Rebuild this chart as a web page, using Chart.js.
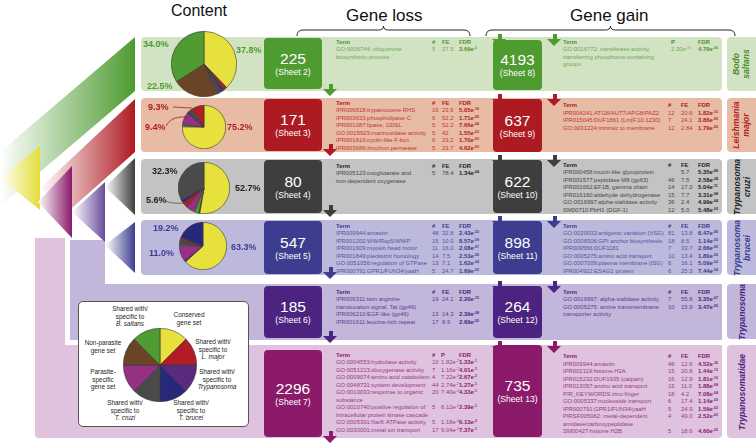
<!DOCTYPE html>
<html>
<head>
<meta charset="utf-8">
<script src="https://cdn.jsdelivr.net/npm/chart.js@4.4.0/dist/chart.umd.min.js"></script>
<style>
  body { margin: 0; width: 756px; height: 443px; position: relative; overflow: hidden; background: #fff;
         font-family: "Liberation Sans", Arial, sans-serif; }
  .a { position: absolute; white-space: nowrap; }
  .nbox { position: absolute; border-radius: 4px; color: #fff; display: flex; flex-direction: column;
          align-items: center; justify-content: center; }
  .nbox .n { font-size: 15.5px; line-height: 17px; }
  .nbox .s { font-size: 8.6px; line-height: 11px; }
  .t { position: absolute; white-space: nowrap; font-size: 5.9px; line-height: 7.5px; }
  .t sup { font-size: 3.6px; vertical-align: 2px; line-height: 0; }
  .pct { position: absolute; font-size: 9px; font-weight: bold; line-height: 10px; }
  .sp { position: absolute; display: flex; flex-direction: column; align-items: center; justify-content: center;
        font-weight: bold; font-style: italic; font-size: 8.6px; line-height: 10px; transform: rotate(-90deg); }
  .lg { position: absolute; font-size: 6.4px; line-height: 7.7px; text-align: center; color: #222; white-space: nowrap; }
  canvas { position: absolute; }
</style>
</head>
<body>
<svg id="bg" class="a" width="756" height="443" style="left:0;top:0"></svg>
<div id="ui"></div>
<svg id="fg" class="a" width="756" height="443" style="left:0;top:0;pointer-events:none"></svg>
<script>
// content categories (legend order, clockwise from 12 o'clock)
const contentLabels = ['Conserved gene set', 'Shared with/ specific to L. major', 'Shared with/ specific to Trypanosoma',
  'Shared with/ specific to T. brucei', 'Shared with/ specific to T. cruzi', 'Parasite- specific gene set',
  'Non-parasite gene set', 'Shared with/ specific to B. saltans'];
const contentColors = ['#e6e13c', '#b21c24', '#5b2a80', '#27287a', '#4a4a4a', '#953085', '#6a4424', '#519b33'];

// pie slices per species: category index and percentage, clockwise
const bodoOrder = [0, 1, 2, 3, 4, 5, 6, 7];
const bodoShares = [37.8, 1.6, 0.6, 0.8, 2.0, 0.7, 22.5, 34.0];
const lmajorOrder = [0, 7, 5, 3, 4, 1];
const lmajorShares = [75.2, 1.5, 9.4, 1.0, 3.6, 9.3];
const tcruziOrder = [0, 6, 7, 5, 1, 3, 2, 4];
const tcruziShares = [52.7, 0.6, 2.8, 5.6, 3.4, 1.8, 0.8, 32.3];
const tbruceiOrder = [0, 2, 5, 7, 4, 1, 3];
const tbruceiShares = [63.3, 1.2, 11.0, 1.0, 2.8, 1.5, 19.2];
const legendShares = [1, 1, 1, 1, 1, 1, 1, 1];

// gene counts
const lossCounts = ['225', '171', '80', '547', '185', '2296'];
const gainCounts = ['4193', '637', '622', '898', '264', '735'];
const lossSheets = ['(Sheet 2)', '(Sheet 3)', '(Sheet 4)', '(Sheet 5)', '(Sheet 6)', '(Sheet 7)'];
const gainSheets = ['(Sheet 8)', '(Sheet 9)', '(Sheet 10)', '(Sheet 11)', '(Sheet 12)', '(Sheet 13)'];
const species = ['Bodo\nsaltans', 'Leishmania\nmajor', 'Trypanosoma\ncruzi', 'Trypanosoma\nbrucei', 'Trypanosoma', 'Trypanosomatidae'];

// enrichment tables: term, #, FE (or P), FDR
const lossBodo = [['GO:0006744: ubiquinone\nbiosynthetic process', '5', '27.5', '3.69e-3']];
const lossLmajor = [
  ['IPR006518:trypanosome RHS', '16', '23.6', '5.05e-16'],
  ['IPR003633:phospholipase C', '6', '52.2', '1.71e-05'],
  ['IPR001087:lipase, GDSL', '5', '52.2', '7.66e-04'],
  ['GO:0015923:mannosidase activity', '5', '42', '1.55e-03'],
  ['IPR001810:cyclin-like F-box', '6', '23.2', '1.70e-03'],
  ['IPR003689:zinc/iron permease', '5', '23.7', '4.62e-03']];
const lossTcruzi = [['IPR005123:oxoglutarate and\niron-dependent oxygenase', '5', '78.4', '1.34e-04']];
const lossTbrucei = [
  ['IPR009944:amastin', '48', '32.8', '2.43e-53'],
  ['IPR001202:WW/Rsp5/WWP', '15', '10.0', '8.57e-09'],
  ['IPR001609:myosin head motor', '11', '16.0', '2.08e-07'],
  ['IPR001849:pleckstrin homology', '14', '7.5', '2.53e-05'],
  ['GO:0051056:regulation of GTPase', '13', '7.1', '1.62e-04'],
  ['IPR000791:GPR1/FUN34/yaaH', '5', '24.7', '1.69e-02']];
const lossTrypanosoma = [
  ['IPR006311:twin arginine\ntranslocation signal, Tat (gp46)', '19', '24.1', '2.20e-15'],
  ['IPR006210:EGF-like (gp46)', '13', '14.3', '2.39e-08'],
  ['IPR001611:leucine-rich repeat', '17', '8.9', '2.69e-05']];
const lossTrypanosomatidae = [
  ['GO:0004553:hydrolase activity', '10', '1.82e-2', '1.33e-1'],
  ['GO:0051213:dioxygenase activity', '7', '1.16e-2', '4.01e-1'],
  ['GO:0009074:amino acid catabolism', '4', '7.22e-4', '2.67e-2'],
  ['GO:0048731:system development', '44', '2.74e-2', '1.27e-1'],
  ['GO:0010033:response to organic\nsubstance', '20', '7.40e-3', '4.33e-1'],
  ['GO:0010740:positive regulation of\nintracellular protein kinase cascade', '5', '6.12e-2', '2.39e-1'],
  ['GO:0005391:Na/K ATPase activity', '5', '1.18e-4', '6.13e-2'],
  ['GO:0030001:metal ion transport', '17', '9.04e-2', '7.37e-1']];

const gainBodo = [['GO:0016772: transferase activity,\ntransferring phosphorus-containing\ngroups', '', '2.30e-09', '4.70e-06']];
const gainLmajor = [
  ['IPR004241:ATG8/AUT7/APG8/PAZ2', '12', '20.6', '1.82e-10'],
  ['IPR015045:DUF1861 (Lm|F.10.1230)', '7', '24.1', '3.86e-05'],
  ['GO:0031224:intrinsic to membrane', '12', '2.84', '1.79e-02']];
const gainTcruzi = [
  ['IPR000458:mucin-like glycoprotein', '', '5.7', '5.35e-89'],
  ['IPR001577:peptidase M8 (gp63)', '46', '7.5', '2.58e-24'],
  ['IPR001662:EF1B, gamma chain', '14', '17.0', '5.04e-11'],
  ['IPR016160:aldehyde dehydrogenase', '15', '7.7', '3.31e-08'],
  ['GO:0016997:alpha-sialidase activity', '36', '2.4', '4.99e-04'],
  ['SM00710:PbH1 (DGF-1)', '12', '5.0', '5.48e-03']];
const gainTbrucei = [
  ['GO:0020033:antigenic variation (VSG)', '81', '13.8', '6.47e-85'],
  ['GO:0006506:GPI anchor biosynthesis', '18', '8.5', '1.14e-05'],
  ['IPR009566:DUF1181', '7', '33.7', '2.66e-05'],
  ['GO:0005275:amino acid transport', '10', '13.4', '1.80e-05'],
  ['GO:0007009:plasma membrane (ISG)', '6', '16.1', '5.09e-03'],
  ['IPR004922:ESAG1 protein', '6', '25.3', '7.44e-04']];
const gainTrypanosoma = [
  ['GO:0016997: alpha-sialidase activity', '7', '55.8', '3.35e-07'],
  ['GO:0005275: amine transmembrane\ntransporter activity', '10', '15.9', '3.47e-05']];
const gainTrypanosomatidae = [
  ['IPR009944:amastin', '48', '12.6', '4.52e-36'],
  ['IPR002119:histone H2A', '15', '20.8', '1.44e-13'],
  ['IPR015232:DUF1935 (calpain)', '16', '12.9', '1.81e-10'],
  ['IPR013057:amino acid transport', '15', '11.0', '1.88e-08'],
  ['PIR_KEYWORDS:zinc-finger', '18', '4.2', '7.08e-04'],
  ['GO:0005337:nucleoside transport', '6', '17.4', '1.14e-03'],
  ['IPR000791:GPR1/FUN34/yaaH', '5', '24.9', '1.59e-02'],
  ['PIRSF005962: metal-dependent\namidase/carboxypeptidase', '4', '49.0', '2.52e-02'],
  ['SM00427:histone H2B', '5', '18.6', '4.60e-02']];

// ---- layout / styling ----
const darkCol = ['#4e9b30', '#ad1a22', '#3e3e3e', '#3c3d8f', '#4c2380', '#8b1a6a'];
const lightCol = ['#d1e3c3', '#e8bba5', '#c3c3c3', '#bdb9dd', '#c3b6db', '#dfc2de'];
const textCol = ['#6dab52', '#c0363a', '#474747', '#56529f', '#5d3b93', '#99398a'];
const boldCol = ['#4f9230', '#ad1a22', '#222', '#3c3a8c', '#4a2580', '#861a70'];
const spCol = ['#4a8c2b', '#b01c22', '#222', '#3b3d8e', '#4a2480', '#4a2480'];
const bandY = [[37, 91], [98, 152], [159, 214], [220, 275], [284, 339], [345, 438]];
const lossBoxY = [[38, 89], [99, 151], [160, 213], [221, 274], [286, 338], [350, 437]];
const gainBoxY = [[40, 90], [99, 152], [160, 213], [221, 274], [286, 338], [345, 437]];
const lossTop = [38.5, 99.5, 162.5, 222.5, 288.5, 351.5];
const gainTop = [38.5, 102, 161.5, 222.5, 288.5, 353];

const ui = document.getElementById('ui');
function el(cls, css, html) {
  const d = document.createElement('div');
  d.className = cls; d.style.cssText = css; d.innerHTML = html || '';
  ui.appendChild(d); return d;
}
function fmt(v) {
  if (v.indexOf('e') < 0) return v;
  const p = v.split('e');
  return p[0] + 'e<sup>' + p[1] + '</sup>';
}

// SVG background: tree shapes
const NS = 'http://www.w3.org/2000/svg';
const bg = document.getElementById('bg'), fg = document.getElementById('fg');
function svg(parent, tag, attrs) {
  const e = document.createElementNS(NS, tag);
  for (const k in attrs) e.setAttribute(k, attrs[k]);
  parent.appendChild(e); return e;
}
const defs = svg(bg, 'defs', {});
function grad(id, col) {
  const g = svg(defs, 'linearGradient', { id: id, x1: 0, x2: 1, y1: 0, y2: 0 });
  svg(g, 'stop', { offset: 0, 'stop-color': '#fff' });
  svg(g, 'stop', { offset: 1, 'stop-color': col });
}
grad('gY', '#e3dd38'); grad('gG', '#4e9b30'); grad('gR', '#ad1a22'); grad('gM', '#8b1a6a');
grad('gL', '#6a4c9c'); grad('gK', '#3e3e3e'); grad('gB', '#3c3d8f');

// trypanosomatid / trypanosoma regions
svg(bg, 'path', { d: 'M35,238 L65,238 L65,345 L722,345 L722,434 Q722,438 718,438 L39,438 Q35,438 35,434 Z', fill: lightCol[5] });
svg(bg, 'path', { d: 'M70,240 L105,240 L105,284 L722,284 L722,340 L70,340 Z', fill: lightCol[4] });
// row bands
bandY.forEach((b, i) => {
  if (i < 4) svg(bg, 'rect', { x: 141, y: b[0], width: 581, height: b[1] - b[0], rx: 4, fill: lightCol[i] });
  svg(bg, 'rect', { x: 727, y: b[0], width: 32, height: b[1] - b[0], rx: 4, fill: lightCol[i] });
});
// branches
svg(bg, 'polygon', { points: '0,152 135,37 135,91 0,206', fill: 'url(#gG)' });
svg(bg, 'polygon', { points: '40,188 135,99 135,152 72,208', fill: 'url(#gR)' });
svg(bg, 'polygon', { points: '0,178 40,146 40,210', fill: 'url(#gY)' });
svg(bg, 'polygon', { points: '38,202 72,166 72,238', fill: 'url(#gM)' });
svg(bg, 'polygon', { points: '72,212 105,182 105,242', fill: 'url(#gL)' });
svg(bg, 'polygon', { points: '105,187 135,158 135,215', fill: 'url(#gK)' });
svg(bg, 'polygon', { points: '105,245 135,222 135,273', fill: 'url(#gB)' });

// headers
el('a', 'left:171px;top:2px;font-size:16px;line-height:18px;color:#111', 'Content');
el('a', 'left:346px;top:6px;font-size:17px;line-height:19px;color:#111', 'Gene loss');
el('a', 'left:570px;top:6px;font-size:17px;line-height:19px;color:#111', 'Gene gain');
function bracket(x1, x2, y) {
  const m = (x1 + x2) / 2;
  svg(fg, 'path', { d: `M${x1},${y + 6} Q${x1},${y} ${x1 + 6},${y} L${m - 5},${y} Q${m},${y} ${m},${y - 4} Q${m},${y} ${m + 5},${y} L${x2 - 6},${y} Q${x2},${y} ${x2},${y + 6}`,
    fill: 'none', stroke: '#222', 'stroke-width': 1 });
}
bracket(297, 470, 30); bracket(486, 735, 30);

// number boxes and species labels
for (let i = 0; i < 6; i++) {
  const lb = lossBoxY[i], gb = gainBoxY[i], b = bandY[i];
  el('nbox', `left:264px;top:${lb[0]}px;width:58px;height:${lb[1] - lb[0]}px;background:${darkCol[i]}`,
    `<div class="n">${lossCounts[i]}</div><div class="s">${lossSheets[i]}</div>`);
  el('nbox', `left:493px;top:${gb[0]}px;width:49px;height:${gb[1] - gb[0]}px;background:${darkCol[i]}`,
    `<div class="n">${gainCounts[i]}</div><div class="s">${gainSheets[i]}</div>`);
  const h = b[1] - b[0];
  el('sp', `left:${741 - h / 2}px;top:${b[0] + h / 2 - 15}px;width:${h}px;height:30px;color:${spCol[i]}`,
    species[i].split('\n').map(s => `<div>${s}</div>`).join(''));
}

// arrows
function arrow(cx, y, col) {
  svg(fg, 'path', { d: `M${cx - 1},${y} L${cx + 3},${y} L${cx + 3},${y + 5} L${cx + 7},${y + 5} L${cx},${y + 12} L${cx - 7},${y + 5} L${cx - 1},${y + 5} Z`, fill: col });
}
[84, 144, 205, 267, 331, 431].forEach((y, i) => arrow(330, y, darkCol[i]));
[34, 94, 155, 216, 281, 341].forEach((y, i) => { arrow(499, y, darkCol[i]); arrow(554, y, darkCol[i]); });

// tables
function table(rows, x, top, i, head) {
  const c = textCol[i], bc = boldCol[i];
  el('t', `left:${x[0]}px;top:${top}px;color:${bc};font-weight:bold`, head[0]);
  for (let k = 1; k < 4; k++) if (head[k]) el('t', `left:${x[k]}px;top:${top}px;color:${bc};font-weight:bold`, head[k]);
  let y = top + 7.5;
  rows.forEach(r => {
    const lines = r[0].split('\n');
    lines.forEach((ln, j) => el('t', `left:${x[0]}px;top:${y + j * 7.5}px;color:${c}`, ln));
    el('t', `left:${x[1]}px;top:${y}px;color:${c}`, r[1]);
    el('t', `left:${x[2]}px;top:${y}px;color:${c}`, fmt(r[2]));
    el('t', `left:${x[3]}px;top:${y}px;color:${bc};font-weight:bold`, fmt(r[3]));
    y += lines.length * 7.5;
  });
}
const lossX = [336, 432, 442, 459], lossXP = [336, 432, 441, 459];
const gainX = [563, 668, 681, 698], gainXP = [563, 668, 671, 698];
const FEH = ['Term', '#', 'FE', 'FDR'];
table(lossBodo, lossX, lossTop[0], 0, FEH);
table(lossLmajor, lossX, lossTop[1], 1, FEH);
table(lossTcruzi, lossX, lossTop[2], 2, FEH);
table(lossTbrucei, lossX, lossTop[3], 3, FEH);
table(lossTrypanosoma, lossX, lossTop[4], 4, FEH);
table(lossTrypanosomatidae, lossXP, lossTop[5], 5, ['Term', '#', 'P', 'FDR']);
table(gainBodo, gainXP, gainTop[0], 0, ['Term', '', 'P', 'FDR']);
table(gainLmajor, gainX, gainTop[1], 1, FEH);
table(gainTcruzi, gainX, gainTop[2], 2, FEH);
table(gainTbrucei, gainX, gainTop[3], 3, FEH);
table(gainTrypanosoma, gainX, gainTop[4], 4, FEH);
table(gainTrypanosomatidae, gainX, gainTop[5], 5, FEH);

// legend box
el('a', 'left:78px;top:301px;width:169px;height:124px;background:#fff;border:1px solid #555;border-radius:5px', '');
[['Shared with/<br>specific to<br><i>B. saltans</i>', 130, 305], ['Conserved<br>gene set', 189, 311],
 ['Shared with/<br>specific to<br><i>L. major</i>', 213, 338], ['Shared with/<br>specific to<br><i>Trypanosoma</i>', 217, 368],
 ['Shared with/<br>specific to<br><i>T. brucei</i>', 191, 399], ['Shared with/<br>specific to<br><i>T. cruzi</i>', 125, 399],
 ['Parasite-<br>specific<br>gene set', 103, 368], ['Non-parasite<br>gene set', 103, 339]].forEach(l => {
  const d = el('lg', `left:${l[1]}px;top:${l[2]}px`, l[0]);
  d.style.transform = 'translateX(-50%)';
});

// pies
function pie(cx, cy, r, order, shares) {
  const c = document.createElement('canvas');
  c.width = 2 * r + 2; c.height = 2 * r + 2;
  c.style.left = (cx - r - 1) + 'px'; c.style.top = (cy - r - 1) + 'px';
  ui.appendChild(c);
  new Chart(c, {
    type: 'pie',
    data: {
      labels: order.map(k => contentLabels[k]),
      datasets: [{ data: shares, backgroundColor: order.map(k => contentColors[k]), borderColor: '#3a3a3a', borderWidth: 0.6 }]
    },
    options: {
      responsive: false, animation: false, devicePixelRatio: 1,
      layout: { padding: 0 },
      plugins: { legend: { display: false }, tooltip: { enabled: false } }
    }
  });
}
pie(204, 64, 32, bodoOrder, bodoShares);
pie(204, 127, 21, lmajorOrder, lmajorShares);
pie(204, 188, 25, tcruziOrder, tcruziShares);
pie(203, 246, 23, tbruceiOrder, tbruceiShares);
pie(160, 365, 36, [0, 1, 2, 3, 4, 5, 6, 7], legendShares);

// percentage labels
function pct(v, x, cy, col) { el('pct', `left:${x}px;top:${cy - 5}px;color:${col}`, v.toFixed(1) + '%'); }
pct(bodoShares[7], 143, 44, '#4e9b30'); pct(bodoShares[0], 236, 50, '#4e9b30'); pct(bodoShares[6], 147, 86, '#4e9b30');
pct(lmajorShares[5], 148, 107, '#b01c22'); pct(lmajorShares[2], 145, 127, '#b01c22'); pct(lmajorShares[0], 227, 127, '#b01c22');
pct(tcruziShares[7], 152, 171, '#222'); pct(tcruziShares[0], 235, 188, '#222'); pct(tcruziShares[3], 146, 200, '#222');
pct(tbruceiShares[6], 153, 228, '#3b3d8e'); pct(tbruceiShares[2], 149, 253, '#3b3d8e'); pct(tbruceiShares[0], 231, 247, '#3b3d8e');
// leader lines
svg(fg, 'path', { d: 'M173,107 L192,108', stroke: '#b01c22', 'stroke-width': 0.8, fill: 'none' });
svg(fg, 'path', { d: 'M166,126 Q170,118 180,117 L188,117', stroke: '#b01c22', 'stroke-width': 0.8, fill: 'none' });
svg(fg, 'path', { d: 'M166,201 Q170,204 186,203', stroke: '#555', 'stroke-width': 0.8, fill: 'none' });
</script>
</body>
</html>
